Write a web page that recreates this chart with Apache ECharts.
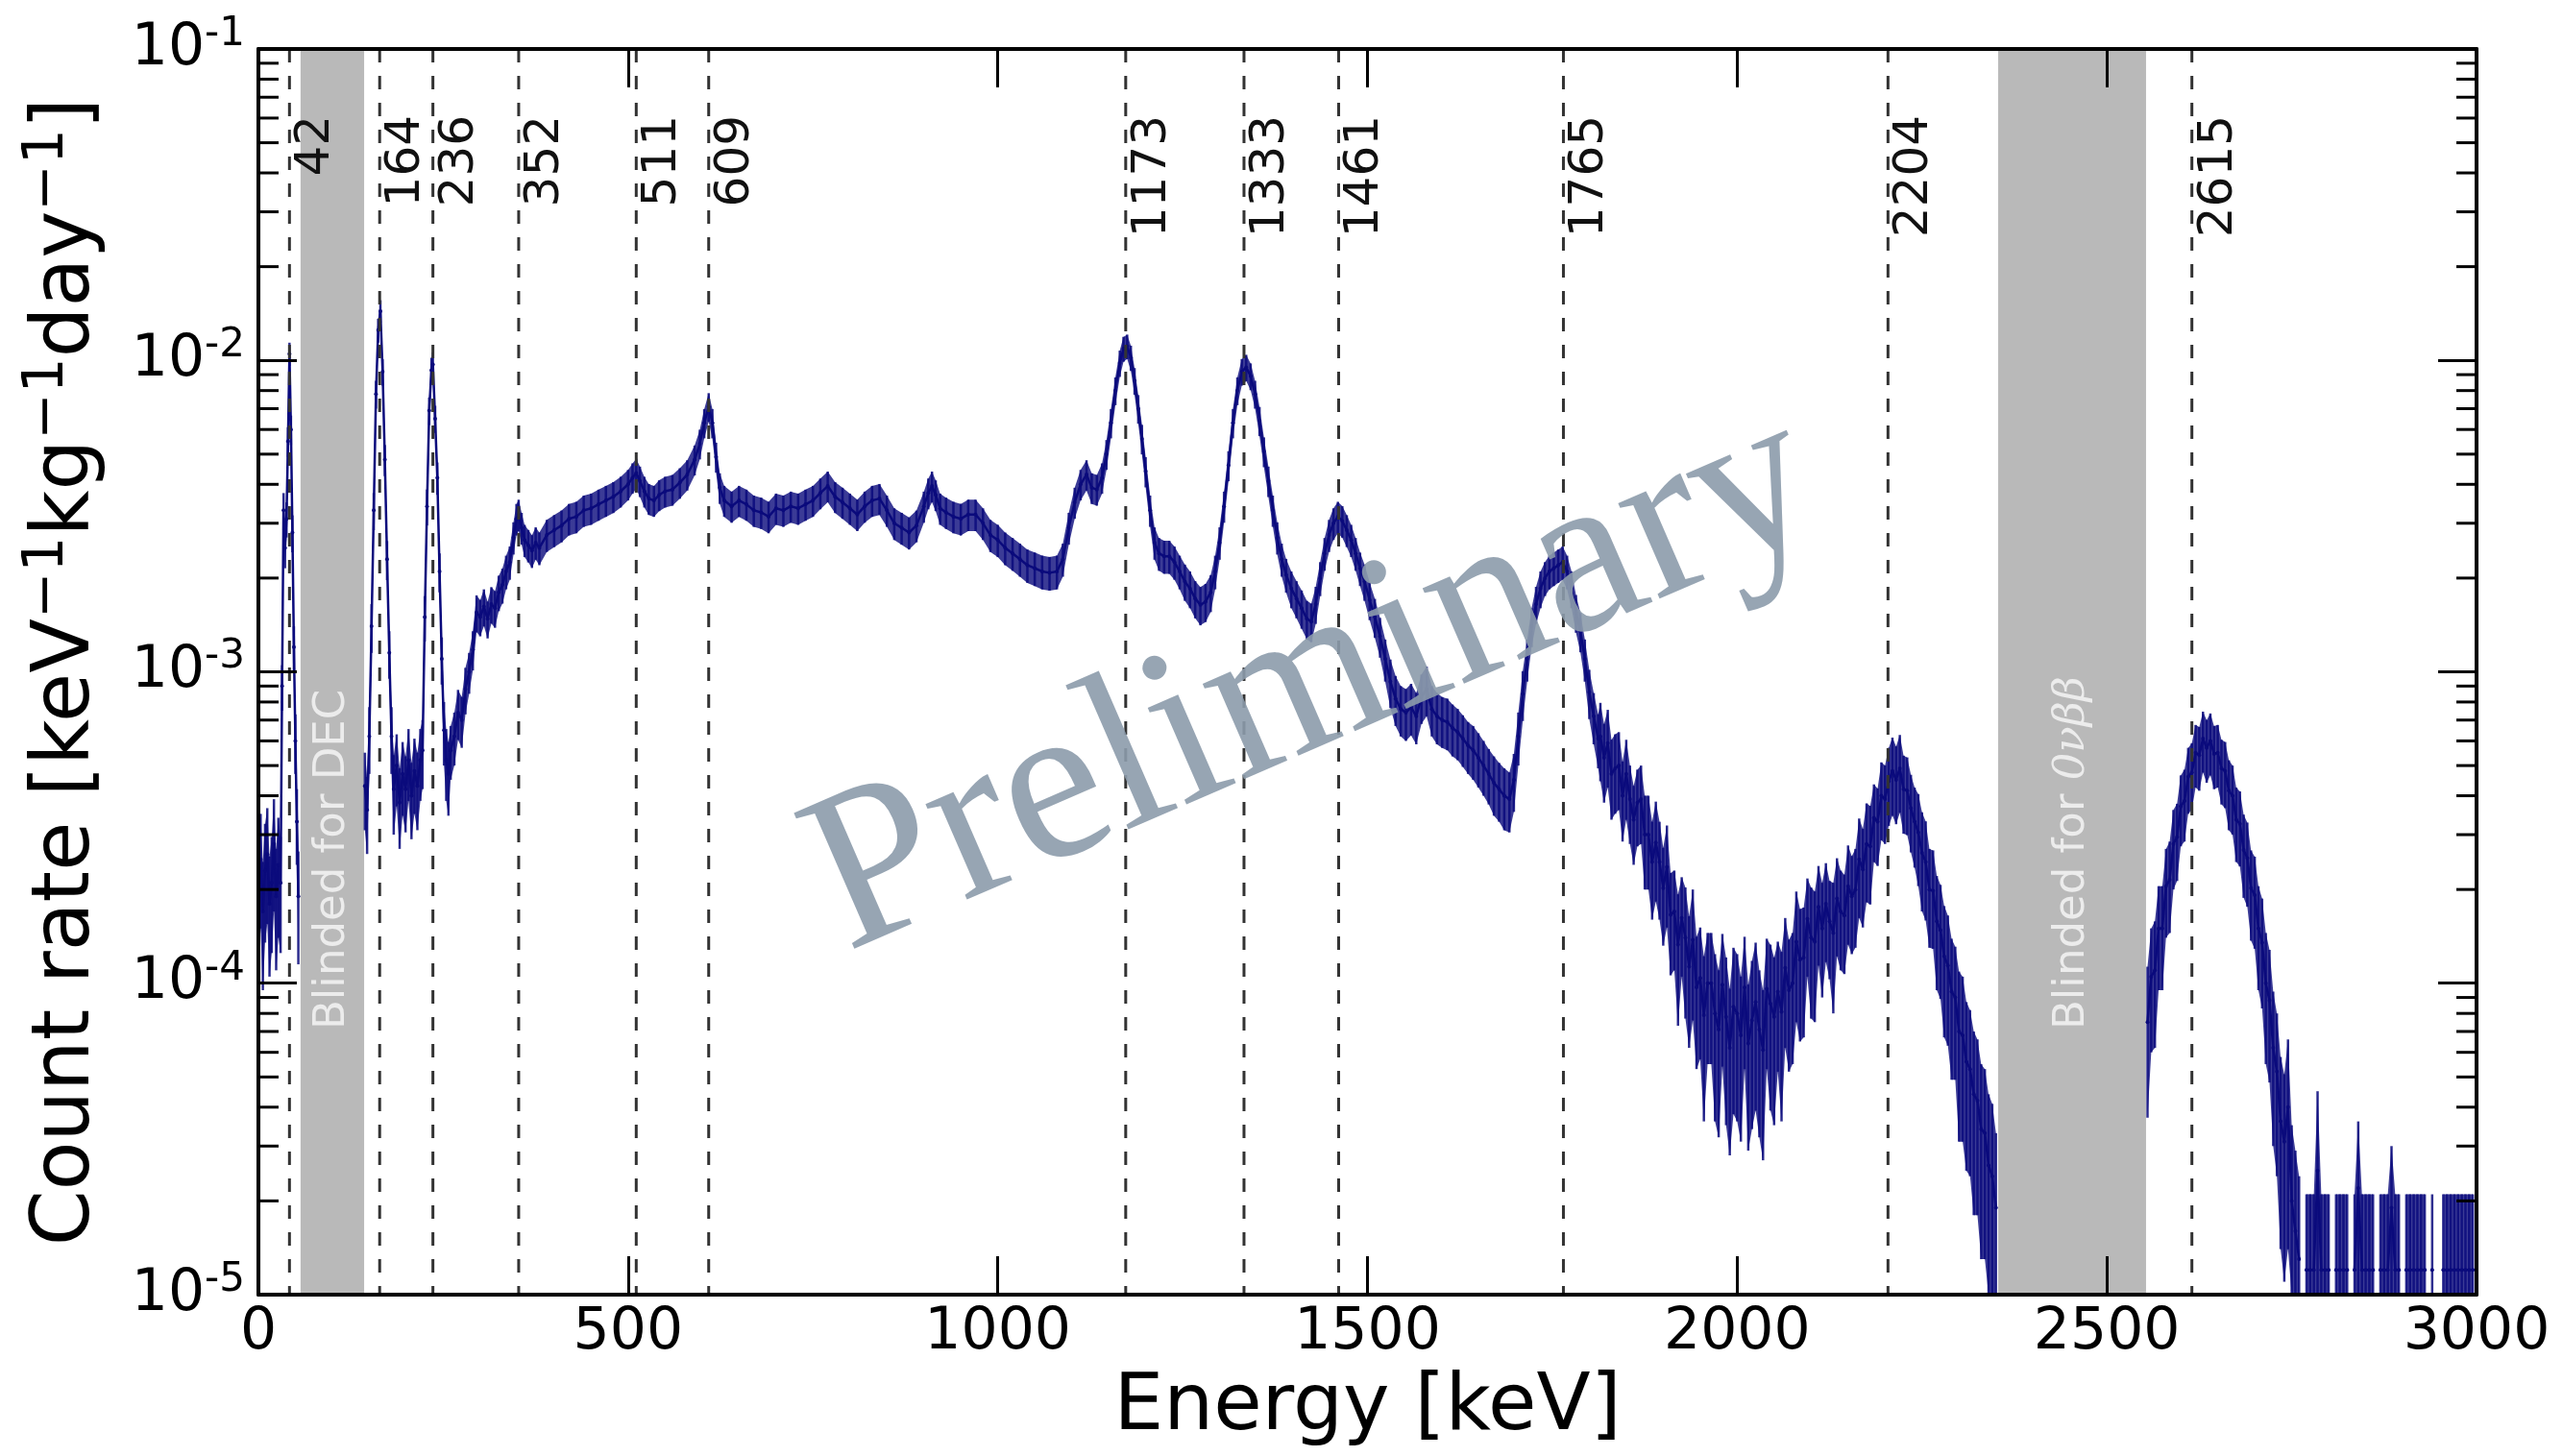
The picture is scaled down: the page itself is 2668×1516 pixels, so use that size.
<!DOCTYPE html>
<html>
<head>
<meta charset="utf-8">
<script src="https://cdn.jsdelivr.net/npm/echarts@6.0.0/dist/echarts.min.js"></script>
<style>
html,body{margin:0;padding:0;background:#ffffff;}
#chart{width:2668px;height:1516px;}
</style>
</head>
<body>
<div id="chart"></div>
<script>
// ---------- axis ticks ----------
const xTickValues = [0, 500, 1000, 1500, 2000, 2500, 3000];
const yTickExponents = [-5, -4, -3, -2, -1];

// ---------- gamma-line markers (keV) ----------
const peakEnergies = [42, 164, 236, 352, 511, 609, 1173, 1333, 1461, 1765, 2204, 2615];
const peakLabels = ['42', '164', '236', '352', '511', '609', '1173', '1333', '1461', '1765', '2204', '2615'];

// ---------- blinded regions (keV) ----------
const blindStart = [57, 2353];
const blindEnd = [143, 2553];
const blindLabels = ['Blinded for DEC', 'Blinded for {m|0νββ}'];

// ---------- spectrum (rate and error in units of 1e-6 keV^-1 kg^-1 day^-1) ----------
const energyA = [0,3,6,9,12,15,18,21,24,27,30,32,34,36,38,40,42,44,46,48,50,52,54];
const rateA   = [190,250,170,230,260,180,210,280,190,240,210,900,3300,2500,3100,5500,10500,6000,2800,1200,600,330,190];
const errA    = [80,100,75,95,105,75,85,110,80,100,85,150,450,350,400,600,900,650,380,200,130,90,75];

const energyB = [144,147,150,153,156,159,162,165,168,171,174,177,180,183,187,191,195,199,203,207,
                 211,215,219,222,225,228,231,234,236,239,242,245,248,251,254,257];
const rateB   = [430,360,620,1400,3300,7800,12500,14400,9200,4800,2300,1150,620,420,500,380,470,420,520,400,
                 480,430,520,560,1500,3400,6900,9300,9700,6500,4200,2100,1100,650,520,470];
const errB    = [120,100,150,250,450,800,1100,1200,900,550,330,200,150,120,130,110,125,115,135,110,
                 130,120,135,140,250,450,700,900,900,650,500,300,190,150,135,125];

const energyC = [
260,265,270,275,280,285,290,295,300,305,
310,315,320,325,330,335,340,345,349,352,
356,360,365,370,375,380,390,400,410,420,
430,440,450,460,470,480,490,500,506,511,
516,522,528,535,542,550,560,570,580,590,
597,603,609,614,619,624,630,640,650,660,
670,680,690,700,710,720,730,740,750,760,
770,780,790,800,810,820,830,840,850,860,
870,880,890,900,906,911,916,922,930,940,
950,960,970,980,990,1000,1010,1020,1030,1040,
1050,1060,1070,1080,1088,1096,1104,1112,1120,1127,
1134,1141,1147,1153,1159,1165,1170,1175,1180,1185,
1190,1195,1200,1206,1212,1218,1225,1232,1239,1246,
1253,1260,1267,1274,1281,1288,1294,1300,1306,1312,
1318,1324,1330,1336,1342,1348,1354,1360,1366,1372,
1378,1384,1390,1397,1404,1411,1418,1424,1430,1436,
1442,1448,1454,1460,1466,1472,1478,1484,1490,1496,
1503,1510,1517,1524,1531,1538,1545,1552,1559,1566,
1573,1580,1587,1594,1601,1608,1615,1622,1629,1636,
1643,1650,1657,1664,1671,1678,1685,1692,1698,1704,
1710,1716,1722,1728,1734,1740,1746,1752,1758,1764,
1770,1776,1782,1788,1794,1800,1806,1812];
const rateC = [
560,620,740,700,880,1000,1180,1550,1500,1620,
1480,1650,1600,1800,1900,2100,2250,2700,3100,3200,
2900,2650,2550,2450,2600,2500,2750,2850,2950,3100,
3150,3300,3350,3450,3550,3650,3800,4000,4200,4350,
4100,3800,3600,3550,3700,3800,3850,4050,4300,4800,
5400,6300,7100,6300,4900,3900,3550,3400,3550,3450,
3300,3250,3150,3350,3300,3400,3350,3450,3550,3750,
3950,3650,3500,3350,3200,3400,3550,3600,3300,3000,
2900,2800,2950,3400,3750,3950,3700,3350,3250,3150,
3100,3200,3200,3000,2750,2650,2500,2400,2300,2200,
2150,2100,2080,2100,2300,2900,3500,4000,4300,3900,
3850,4200,5000,6300,8000,9800,10900,11100,10200,8600,
7000,5600,4400,3300,2600,2400,2350,2350,2250,2100,
1950,1850,1720,1640,1680,1800,2100,2600,3400,4600,
6300,8000,9200,9500,8900,7800,6400,5100,4100,3300,
2700,2300,2050,1850,1720,1600,1480,1450,1650,2000,
2400,2750,3000,3150,3050,2850,2650,2400,2150,1950,
1700,1500,1300,1100,930,820,760,740,770,720,
830,880,760,720,700,690,660,640,610,580,
560,530,500,470,440,420,400,390,450,620,
850,1100,1400,1650,1850,2000,2100,2150,2200,2250,
2100,1850,1550,1350,1100,860,720,610];
const errC = [
110,120,135,130,150,150,170,210,200,220,
200,220,215,235,245,260,275,320,360,370,
340,315,305,295,310,300,325,335,345,360,
365,380,385,395,405,415,430,450,470,480,
460,430,410,405,420,430,435,455,480,530,
590,680,750,680,540,440,405,390,405,395,
380,375,365,385,380,390,385,395,405,425,
445,415,400,385,370,390,405,410,380,350,
340,330,345,390,425,445,420,385,375,365,
360,370,370,350,325,315,300,290,280,270,
265,260,258,260,280,340,400,450,480,440,
435,470,550,680,820,950,1000,1000,950,850,
740,610,490,380,310,290,285,285,275,260,
260,250,235,230,235,245,260,310,390,510,
680,820,900,920,880,800,690,560,460,380,
320,280,255,250,235,225,210,205,225,250,
290,325,350,365,355,335,315,290,265,260,
235,215,190,170,165,150,140,140,145,135,
150,160,140,135,130,130,125,120,115,110,
110,105,100,95,95,90,90,85,95,120,
155,170,200,225,250,250,260,265,270,275,
260,250,215,195,170,155,135,120];

const energyD = [
1815,1820,1825,1830,1835,1840,1845,1850,1855,1860,
1865,1870,1875,1880,1885,1890,1895,1900,1905,1910,
1915,1920,1925,1930,1935,1940,1945,1950,1955,1960,
1965,1970,1975,1980,1985,1990,1995,2000,2005,2010,
2015,2020,2025,2030,2035,2040,2045,2050,2055,2060,
2065,2070,2075,2080,2085,2090,2095,2100,2105,2110,
2115,2120,2125,2130,2135,2140,2145,2150,2155,2160,
2165,2170,2175,2180,2185,2190,2195,2200,2205,2210,
2215,2220,2225,2230,2235,2240,2245,2250,2255,2260,
2265,2270,2275,2280,2285,2290,2295,2300,2305,2310,
2315,2320,2325,2330,2335,2340,2345,2350];
const rateD = [
620,530,590,470,490,500,400,470,390,335,
380,390,300,300,245,283,245,202,236,166,
170,133,162,140,113,138,97,104,79,100,
100,80,71,99,78,62,84,80,68,97,
64,76,87,71,61,96,86,78,94,81,
112,95,100,136,119,121,161,140,136,176,
150,180,158,145,187,170,165,205,190,200,
250,232,280,275,340,330,400,390,445,480,
450,490,420,415,365,330,305,262,245,200,
198,158,148,122,114,94,90,70,68,56,
53,44,42,34,33,26,24,19];
const errD = [
175,150,165,135,140,140,115,135,110,95,
105,110,100,100,85,100,85,70,85,60,
60,60,57,63,51,62,44,47,43,45,
45,44,39,45,43,34,46,44,37,44,
35,42,48,39,34,43,47,43,42,45,
50,43,45,61,54,54,56,63,61,62,
60,63,55,65,65,60,58,72,66,70,
88,81,98,96,95,92,112,110,125,135,
126,137,118,116,102,95,100,92,86,70,
69,63,59,55,51,45,41,39,37,31,
29,26,24,21,20,18,17,14];

const energyE = [
2555,2560,2565,2570,2575,2580,2585,2590,2595,2600,
2605,2610,2615,2620,2625,2630,2635,2640,2645,2650,
2655,2660,2665,2670,2675,2680,2685,2690,2695,2700,
2705,2710,2715,2720,2725,2730,2735,2740,2745,2750,
2755,2760,2765,2770,2775,2780,2785,2790,2795,2800,
2805,2810,2815,2820,2825,2830,2835,2840,2845,2850,
2855,2860,2865,2870,2875,2880,2885,2890,2895,2900,
2905,2910,2915,2920,2925,2930,2935,2940,2945,2950,
2955,2960,2965,2970,2975,2980,2985,2990,2995];
const rateE = [
75,105,110,150,150,205,215,280,295,370,
385,460,475,550,540,610,570,600,545,550,
490,480,415,400,335,325,268,252,202,192,
150,135,100,88,62,52,36,31,40,20,
16,13,null,12,12,12,25,12,12,12,
null,12,12,12,12,null,12,22,12,12,
12,12,null,12,12,12,19,12,12,null,
12,12,12,12,12,12,null,12,null,null,
12,12,12,12,12,12,12,12,12];
const errE = [
38,45,48,55,55,65,70,80,82,95,
100,110,115,125,125,135,130,135,125,125,
115,115,105,100,90,88,80,76,65,63,
55,52,45,40,32,28,22,20,26,15,
13,11,null,9,9,9,20,9,9,9,
null,9,9,9,9,null,9,14,9,9,
9,9,null,9,9,9,11,9,9,null,
9,9,9,9,9,9,null,9,null,null,
9,9,9,9,9,9,9,9,9];

// ---------- build tables for the library ----------
const UNIT = 1e-6, Y_MIN = 1e-5, Y_MAX = 1e-1, X_MIN = 0, X_MAX = 3000;
const FONT = '"DejaVu Sans", sans-serif';
const NAVY = '#0a0a7c';

const energy = [], rate = [], err = [];
function addSeg(E, R, S, gapAfter) {
  for (let i = 0; i < E.length; i++) { energy.push(E[i]); rate.push(R[i]); err.push(S[i]); }
  if (gapAfter !== undefined) { energy.push(gapAfter); rate.push(null); err.push(null); }
}
addSeg(energyA, rateA, errA, 100);
addSeg(energyB, rateB, errB);
addSeg(energyC, rateC, errC);
addSeg(energyD, rateD, errD, 2450);
addSeg(energyE, rateE, errE);

const linePts = energy.map((e, i) => rate[i] == null ? [e, '-'] : [e, rate[i] * UNIT]);
const barPts = [];
energy.forEach((e, i) => {
  if (rate[i] != null) barPts.push([e, Math.max((rate[i] - err[i]) * UNIT, 1e-8), (rate[i] + err[i]) * UNIT]);
});
const segs = []; let cur = [];
energy.forEach((e, i) => { if (rate[i] == null) { if (cur.length) segs.push(cur); cur = []; } else cur.push(i); });
if (cur.length) segs.push(cur);

const minorTicks = [];
for (let n = -5; n < -1; n++) for (let k = 2; k <= 9; k++) minorTicks.push([X_MIN, k * Math.pow(10, n)]);

function clampY(y, cs) { return Math.max(cs.y, Math.min(cs.y + cs.height, y)); }

const frameLine = { onZero: false, lineStyle: { color: '#000', width: 4 } };
const frameTick = { inside: true, length: 40, lineStyle: { color: '#000', width: 3 } };

const option = {
  animation: false,
  backgroundColor: '#ffffff',
  grid: { left: 269, right: 90, top: 51, bottom: 168 },
  xAxis: [
    { type: 'value', min: X_MIN, max: X_MAX, interval: 500, position: 'bottom', z: 10,
      axisLine: frameLine, axisTick: frameTick, splitLine: { show: false },
      axisLabel: { margin: 10, fontSize: 60, fontFamily: FONT, color: '#000',
        formatter: v => xTickValues.indexOf(v) >= 0 ? String(v) : '' },
      name: 'Energy [keV]', nameLocation: 'middle', nameGap: 78,
      nameTextStyle: { fontSize: 82, fontFamily: FONT, color: '#000' } },
    { type: 'value', min: X_MIN, max: X_MAX, interval: 500, position: 'top', z: 10,
      axisLine: frameLine, axisTick: frameTick, splitLine: { show: false }, axisLabel: { show: false } }
  ],
  yAxis: [
    { type: 'log', logBase: 10, min: Y_MIN, max: Y_MAX, splitNumber: 4, position: 'left', z: 10,
      axisLine: frameLine, axisTick: frameTick, splitLine: { show: false }, minorTick: { show: false },
      axisLabel: { margin: 14, color: '#000',
        formatter: v => { const ex = Math.round(Math.log10(v)); return yTickExponents.indexOf(ex) >= 0 ? '{b|10}{s|' + ex + '}' : ''; },
        rich: { b: { fontSize: 60, lineHeight: 72, fontFamily: FONT, color: '#000' },
                s: { fontSize: 42, lineHeight: 34, verticalAlign: 'top', fontFamily: FONT, color: '#000' } } },
      name: '{t|Count rate [keV}{s|−1}{t|kg}{s|−1}{t|day}{s|−1}{t|]}',
      nameLocation: 'middle', nameRotate: 90, nameGap: 150,
      nameTextStyle: { fontSize: 83, fontFamily: FONT, color: '#000',
        rich: { t: { fontSize: 83, lineHeight: 98, fontFamily: FONT, color: '#000' },
                s: { fontSize: 58, lineHeight: 48, verticalAlign: 'top', fontFamily: FONT, color: '#000' } } } },
    { type: 'log', logBase: 10, min: Y_MIN, max: Y_MAX, splitNumber: 4, position: 'right', z: 10,
      axisLine: frameLine, axisTick: frameTick, splitLine: { show: false }, axisLabel: { show: false } }
  ],
  series: [
    // blinded bands
    { type: 'custom', xAxisIndex: 0, yAxisIndex: 0, z: 1, silent: true,
      data: blindStart.map((s, i) => [s, Y_MAX, blindEnd[i], i]),
      renderItem: (params, api) => {
        const i = api.value(3);
        const a = api.coord([api.value(0), Y_MAX]);
        const b = api.coord([api.value(2), Y_MIN]);
        const cx = (a[0] + b[0]) / 2;
        return { type: 'group', children: [
          { type: 'rect', shape: { x: a[0], y: a[1], width: b[0] - a[0], height: b[1] - a[1] }, style: { fill: '#b9b9b9' } },
          { type: 'text', x: cx, y: b[1] - 276, rotation: Math.PI / 2,
            style: { text: blindLabels[i], font: '45px "DejaVu Sans"', fill: '#ececec', align: 'left', verticalAlign: 'middle',
              rich: { m: { fontFamily: '"DejaVu Serif"', fontStyle: 'italic', fontSize: 45, fill: '#ececec' } } } }
        ]};
      } },
    // error band envelope
    { type: 'custom', xAxisIndex: 0, yAxisIndex: 0, z: 2, silent: true,
      data: segs.map((s, k) => [energy[s[0]], rate[s[0]] * UNIT, k]),
      renderItem: (params, api) => {
        const cs = params.coordSys;
        const idx = segs[api.value(2)];
        const up = [], dn = [];
        idx.forEach(i => {
          const hi = (rate[i] + err[i]) * UNIT;
          const lo = Math.max((rate[i] - err[i]) * UNIT, 1e-8);
          const p1 = api.coord([energy[i], hi]);
          const p2 = api.coord([energy[i], lo]);
          up.push([p1[0], clampY(p1[1], cs)]);
          dn.push([p2[0], clampY(p2[1], cs)]);
        });
        return { type: 'polygon', shape: { points: up.concat(dn.reverse()) }, style: { fill: NAVY, opacity: 0.8 } };
      } },
    // error bars
    { type: 'custom', xAxisIndex: 0, yAxisIndex: 0, z: 3, silent: true,
      data: barPts,
      renderItem: (params, api) => {
        const cs = params.coordSys;
        const p1 = api.coord([api.value(0), api.value(2)]);
        const p2 = api.coord([api.value(0), api.value(1)]);
        return { type: 'line', shape: { x1: p1[0], y1: clampY(p1[1], cs), x2: p1[0], y2: clampY(p2[1], cs) },
          style: { stroke: NAVY, lineWidth: 2.5, opacity: 0.85 } };
      } },
    // spectrum
    { type: 'line', xAxisIndex: 0, yAxisIndex: 0, z: 4, silent: true,
      data: linePts, connectNulls: false, showSymbol: true, showAllSymbol: true,
      symbol: 'circle', symbolSize: 4, itemStyle: { color: NAVY },
      lineStyle: { color: NAVY, width: 2.5 } },
    // gamma-line markers
    { type: 'custom', xAxisIndex: 0, yAxisIndex: 0, z: 5, silent: true,
      data: peakEnergies.map((e, i) => [e, Y_MAX, i]),
      renderItem: (params, api) => {
        const e = api.value(0), i = api.value(2);
        const t = api.coord([e, Y_MAX]);
        const b = api.coord([e, Y_MIN]);
        return { type: 'group', children: [
          { type: 'line', shape: { x1: t[0], y1: t[1], x2: b[0], y2: b[1] },
            style: { stroke: '#333333', lineWidth: 3, lineDash: [14, 14] } },
          { type: 'text', x: t[0] + 28, y: t[1] + 69, rotation: Math.PI / 2,
            style: { text: peakLabels[i], font: '50px "DejaVu Sans"', fill: '#111111', align: 'right', verticalAlign: 'middle' } }
        ]};
      } },
    // minor log ticks on left and right frame
    { type: 'custom', xAxisIndex: 0, yAxisIndex: 0, z: 10, silent: true,
      data: minorTicks,
      renderItem: (params, api) => {
        const l = api.coord([X_MIN, api.value(1)]);
        const r = api.coord([X_MAX, api.value(1)]);
        return { type: 'group', children: [
          { type: 'line', shape: { x1: l[0], y1: l[1], x2: l[0] + 21, y2: l[1] }, style: { stroke: '#000', lineWidth: 3 } },
          { type: 'line', shape: { x1: r[0] - 21, y1: r[1], x2: r[0], y2: r[1] }, style: { stroke: '#000', lineWidth: 3 } }
        ]};
      } }
  ],
  graphic: [
    { type: 'text', x: 1368, y: 712, rotation: 0.41, z: 100, silent: true,
      style: { text: 'Preliminary', font: '236px "Liberation Serif"', fill: '#8c9bab', opacity: 0.9,
        align: 'center', verticalAlign: 'middle' } }
  ]
};

const chart = echarts.init(document.getElementById('chart'), null, { renderer: 'canvas' });
chart.setOption(option);
</script>
</body>
</html>
